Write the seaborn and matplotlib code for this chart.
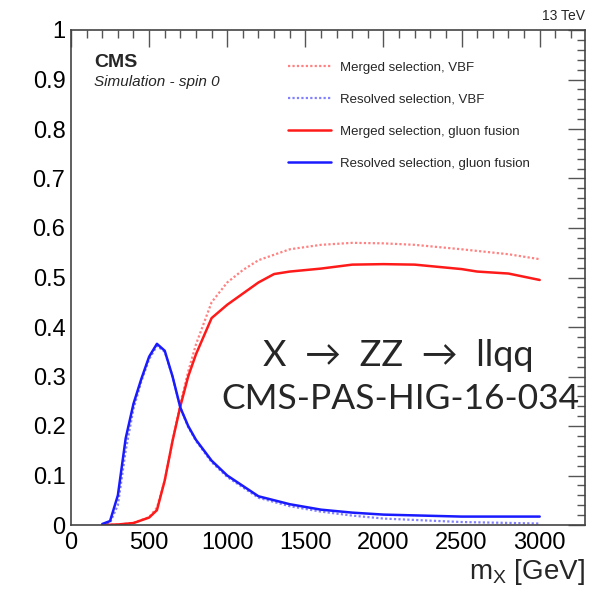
import numpy as np
import pandas as pd
import matplotlib
matplotlib.use("Agg")
import matplotlib.pyplot as plt
import seaborn as sns
from matplotlib.ticker import MultipleLocator

# ---- data ----
mass_res_ggf = [200, 250, 300, 350, 400, 450, 500, 550, 600, 650, 700, 750, 800, 900, 1000, 1200, 1400, 1600, 1800, 2000, 2500, 3000]
eff_res_ggf = [0.002, 0.008, 0.06, 0.175, 0.245, 0.295, 0.34, 0.366, 0.352, 0.30, 0.237, 0.20, 0.172, 0.13, 0.10, 0.058, 0.042, 0.031, 0.025, 0.021, 0.017, 0.017]

mass_res_vbf = [200, 250, 300, 350, 400, 450, 500, 550, 600, 650, 700, 750, 800, 900, 1000, 1200, 1400, 1600, 1800, 2000, 2500, 3000]
eff_res_vbf = [0.0, 0.005, 0.04, 0.15, 0.235, 0.29, 0.335, 0.362, 0.35, 0.30, 0.237, 0.198, 0.17, 0.127, 0.097, 0.055, 0.038, 0.027, 0.019, 0.013, 0.006, 0.003]

mass_mer_ggf = [200, 300, 400, 500, 550, 600, 650, 700, 750, 800, 900, 1000, 1200, 1300, 1400, 1600, 1800, 2000, 2200, 2500, 2600, 2800, 3000]
eff_mer_ggf = [0.0, 0.001, 0.004, 0.015, 0.03, 0.09, 0.17, 0.24, 0.30, 0.345, 0.418, 0.445, 0.49, 0.507, 0.512, 0.518, 0.526, 0.527, 0.526, 0.517, 0.512, 0.508, 0.495]

mass_mer_vbf = [200, 300, 400, 500, 550, 600, 650, 700, 750, 800, 900, 1000, 1100, 1200, 1400, 1600, 1800, 2000, 2200, 2500, 2800, 3000]
eff_mer_vbf = [0.0, 0.001, 0.004, 0.016, 0.035, 0.09, 0.17, 0.245, 0.31, 0.365, 0.45, 0.49, 0.515, 0.535, 0.557, 0.566, 0.57, 0.569, 0.566, 0.557, 0.547, 0.537]

labels = ["Merged selection, VBF", "Resolved selection, VBF",
          "Merged selection, gluon fusion", "Resolved selection, gluon fusion"]

sns.set_theme(style="white")
plt.rcParams['font.family'] = ['Liberation Sans', 'DejaVu Sans']
plt.rcParams['mathtext.fontset'] = 'custom'
plt.rcParams['mathtext.rm'] = 'Liberation Sans'

fig = plt.figure(figsize=(6.01, 5.95), dpi=100)
ax = fig.add_axes([71/601, 1-525/595, (585-71)/601, (525-30)/595])

RED = '#ff1a1a'
BLUE = '#1a1aff'
dot = (0, (1, 1))

sns.lineplot(x=mass_mer_vbf, y=eff_mer_vbf, ax=ax, color=RED, lw=1.6, linestyle=dot, alpha=0.55, label=labels[0])
sns.lineplot(x=mass_res_vbf, y=eff_res_vbf, ax=ax, color=BLUE, lw=1.6, linestyle=dot, alpha=0.55, label=labels[1])
sns.lineplot(x=mass_mer_ggf, y=eff_mer_ggf, ax=ax, color=RED, lw=1.8, label=labels[2])
sns.lineplot(x=mass_res_ggf, y=eff_res_ggf, ax=ax, color=BLUE, lw=1.8, label=labels[3])

ax.set_xlim(0, 3290)
ax.set_ylim(0, 1)
ax.xaxis.set_major_locator(MultipleLocator(500))
ax.xaxis.set_minor_locator(MultipleLocator(100))
ax.yaxis.set_major_locator(MultipleLocator(0.1))
ax.yaxis.set_minor_locator(MultipleLocator(0.02))
ax.set_yticks(np.arange(0, 1.01, 0.1))
ax.set_yticklabels(['0', '0.1', '0.2', '0.3', '0.4', '0.5', '0.6', '0.7', '0.8', '0.9', '1'])
ax.tick_params(which='both', direction='in', top=True, right=True, colors='#555555',
               labelcolor='black', labelsize=17)
ax.tick_params(which='major', length=12, width=1)
ax.tick_params(which='minor', length=6, width=1)
ax.tick_params(axis='x', pad=5)
ax.tick_params(axis='y', pad=4)
for s in ax.spines.values():
    s.set_color('#444444')
    s.set_linewidth(1.2)
    s.set_visible(True)

ax.set_xlabel(r'm$_{\mathregular{X}}$ [GeV]', loc='right', fontsize=20, labelpad=2)
ax.set_ylabel('')

leg = ax.legend(loc='upper left', bbox_to_anchor=(0.40, 0.96), frameon=False,
                fontsize=9.5, handlelength=3.2, labelspacing=1.5, handletextpad=0.7)

ax.text(0.045, 0.935, 'CMS', transform=ax.transAxes, fontsize=14, fontweight='bold', va='center')
ax.text(0.045, 0.895, 'Simulation - spin 0', transform=ax.transAxes, fontsize=11, style='italic', va='center')
ax.text(1.0, 1.015, '13 TeV', transform=ax.transAxes, fontsize=10, ha='right', va='bottom')

fig.text(398/601, 1-356/595, 'X  →  ZZ  →  llqq', fontsize=26, ha='center', va='center',
         family=['Lato', 'DejaVu Sans'])
fig.text(400/601, 1-399/595, 'CMS-PAS-HIG-16-034', fontsize=25.5, ha='center', va='center',
         family=['Lato', 'DejaVu Sans'])

fig.savefig('out.png', dpi=100)
